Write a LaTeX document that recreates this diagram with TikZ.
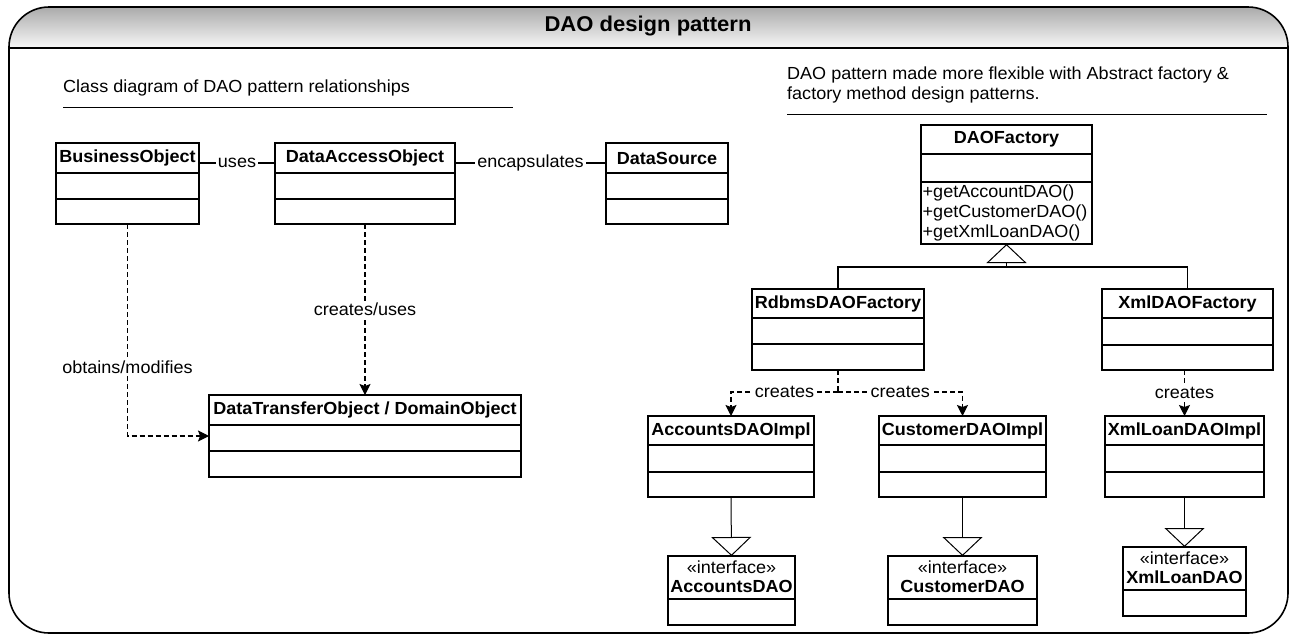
\documentclass[tikz,border=0pt]{standalone}
\usepackage{fontspec}
\setmainfont[FakeStretch=1.03]{Liberation Sans}
\usetikzlibrary{arrows.meta}
\newcommand\bodyfont{\fontsize{17.5}{20}\selectfont}
\newcommand\titlefont{\fontsize{21.4}{24}\selectfont\bfseries}
% id, x1, x2, top, div1, div2, bottom, label
\newcommand\umlclass[8]{%
  \pgfmathsetmacro\clsw{#3-#2}\pgfmathsetmacro\clsh{#7-#4}%
  \node[classbox, minimum width=\clsw pt, minimum height=\clsh pt, anchor=north west] (#1) at (#2,#4) {};
  \node[classname] (#1-name) at ({(#2+#3)/2},{(#4+#5)/2}) {#8};
  \draw[classline] (#2,#5) -- (#3,#5);
  \draw[classline] (#2,#6) -- (#3,#6);
}
% id, x1, x2, top, div, bottom, label
\newcommand\umliface[7]{%
  \pgfmathsetmacro\clsw{#3-#2}\pgfmathsetmacro\clsh{#6-#4}%
  \node[classbox, minimum width=\clsw pt, minimum height=\clsh pt, anchor=north west] (#1) at (#2,#4) {};
  \node[stereo] (#1-st) at ({(#2+#3)/2},{#4+11.5}) {«interface»};
  \node[classname] (#1-name) at ({(#2+#3)/2},{#4+30.5}) {#7};
  \draw[classline] (#2,#5) -- (#3,#5);
}
\begin{document}
\begin{tikzpicture}[x=1pt,y=-1pt,
  classbox/.style={draw, line width=1.4pt, fill=white, inner sep=0pt, outer sep=0pt},
  classname/.style={font=\bodyfont\bfseries, inner sep=0pt},
  stereo/.style={font=\bodyfont, inner sep=0pt},
  classline/.style={line width=1.4pt},
  assoc/.style={line width=1.1pt},
  dashline/.style={line width=1.1pt, dash pattern=on 5pt off 3pt},
  dep/.style={dashline, -{Stealth[length=11pt,width=11pt,inset=2pt]}},
  gen/.style={line width=1pt, -{Triangle[open,length=19pt,width=40pt]}},
  lbl/.style={fill=white, inner sep=2pt, font=\bodyfont},
  plain/.style={font=\bodyfont, inner sep=0pt}
]
\useasboundingbox (0,0) rectangle (1292,635);
% frame and header
\begin{scope}
  \clip[rounded corners=40pt] (9,7) rectangle (1288,633);
  \shade[top color=black!33, bottom color=black!3] (9,7) rectangle (1288,48);
\end{scope}
\draw[line width=1.6pt] (9,48) -- (1288,48);
\draw[line width=1.6pt, rounded corners=40pt] (9,7) rectangle (1288,633);
\node[font=\titlefont] (title) at (648,26) {DAO design pattern};

% subtitles
\node[plain, anchor=west] (sub1) at (63,88) {Class diagram of DAO pattern relationships};
\draw[line width=1pt] (63,107) -- (513,107);
\node[plain, anchor=west, align=left] (sub2) at (787,85) {DAO pattern made more flexible with Abstract factory \&\\factory method design patterns.};
\draw[line width=1pt] (787,114) -- (1267,114);

% left diagram
\umlclass{bo}{56}{199}{143}{173}{199}{224}{BusinessObject}
\umlclass{dao}{275}{455}{143}{173}{199}{224}{DataAccessObject}
\umlclass{ds}{606}{728}{143}{173}{199}{224}{DataSource}
\umlclass{dto}{209}{521}{395}{425}{451}{477}{DataTransferObject / DomainObject}

\draw[assoc] (bo.east |- 0,163) -- node[lbl]{uses} (dao.west |- 0,163);
\draw[assoc] (dao.east |- 0,163) -- node[lbl]{encapsulates} (ds.west |- 0,163);
\draw[dep] (dao.south) -- node[lbl]{creates/uses} (dto.north);
\draw[dep] (bo.south) |- node[lbl,pos=0.337]{obtains/modifies} (dto.west |- 0,436);

% right diagram
\node[classbox, minimum width=171pt, minimum height=119pt, anchor=north west] (daof) at (921,125) {};
\node[classname] (daof-name) at (1006.5,139.5) {DAOFactory};
\draw[classline] (921,154) -- (1092,154);
\draw[classline] (921,182) -- (1092,182);
\node[plain, anchor=west, align=left] (daof-ops) at (922.5,213) {+getAccountDAO()\\+getCustomerDAO()\\+getXmlLoanDAO()};

\umlclass{rdbms}{752}{924}{289}{318}{344}{370}{RdbmsDAOFactory}
\umlclass{xmlf}{1102}{1273}{289}{318}{345}{370}{XmlDAOFactory}
\umlclass{acc}{648}{814}{416}{445}{472}{497}{AccountsDAOImpl}
\umlclass{cust}{879}{1046}{416}{445}{472}{497}{CustomerDAOImpl}
\umlclass{xmlimpl}{1105}{1264}{416}{445}{472}{497}{XmlLoanDAOImpl}
\umliface{accdao}{668}{795}{556}{599}{625}{AccountsDAO}
\umliface{custdao}{888}{1037}{556}{599}{625}{CustomerDAO}
\umliface{xmldao}{1123}{1246}{547}{590}{616}{XmlLoanDAO}

\coordinate (fj) at (1006.5,267);
\draw[assoc] (rdbms.north) |- (fj) -| (xmlf.north);
\draw[gen] (fj) -- (daof.south);

\coordinate (cj) at (838,392);
\draw[dashline] (rdbms.south) -- (cj);
\draw[dep] (cj) -| node[lbl,pos=0.25]{creates} (acc.north);
\draw[dep] (cj) -| node[lbl,pos=0.25]{creates} (cust.north);
\draw[dep] (xmlimpl.north |- xmlf.south) -- node[lbl]{creates} (xmlimpl.north);

\draw[gen] (acc.south) -- (accdao.north);
\draw[gen] (cust.south) -- (custdao.north);
\draw[gen] (xmlimpl.south) -- (xmldao.north);
\end{tikzpicture}
\end{document}
